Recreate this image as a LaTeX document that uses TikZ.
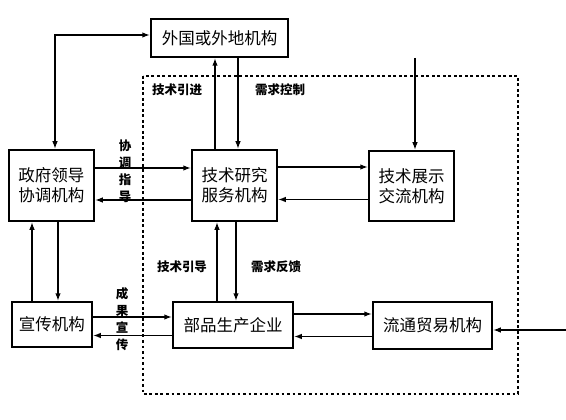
\documentclass[tikz,border=0pt]{standalone}
\usepackage{fontspec}
\setmainfont{Noto Sans CJK SC}
\usetikzlibrary{arrows.meta}
\tikzset{
	box/.style={draw, line width=1.5pt, inner sep=0pt, align=center, font=\fontsize{16.5}{20}\selectfont},
	lab/.style={inner sep=0pt, align=center, font=\bfseries\fontsize{12.5}{17}\selectfont},
	link/.style={line width=1.6pt, -{Latex[length=8pt,width=5.5pt]}}
}

\begin{document}
\begin{tikzpicture}[x=1pt, y=-1pt]
			%%%%% START %%%%%
			
			\useasboundingbox (0, 0) rectangle (566, 420);
			
			\draw[line width=2.3pt, dash pattern=on 2.6pt off 2.9pt] (143, 76) rectangle (518, 394);
			
			\node[box, minimum width=137, minimum height=38] (abroad) at (219.5, 38) {外国或外地机构};
			\node[box, minimum width=85, minimum height=71] (gov) at (51.5, 185.5) {政府领导\\协调机构};
			\node[box, minimum width=85, minimum height=71] (research) at (234.5, 185.5) {技术研究\\服务机构};
			\node[box, minimum width=85, minimum height=70] (expo) at (411.5, 186) {技术展示\\交流机构};
			\node[box, minimum width=80, minimum height=45] (promo) at (52, 324.5) {宣传机构};
			\node[box, minimum width=120, minimum height=46] (maker) at (233, 325) {部品生产企业};
			\node[box, minimum width=119, minimum height=47] (trade) at (432.5, 325.5) {流通贸易机构};
			
			\coordinate (expoin) at (415, 58);
			\coordinate (tradein) at (566, 330);
			
			\draw[link, {Latex[length=8pt,width=5.5pt]}-{Latex[length=8pt,width=5.5pt]}] ([xshift=3.5pt]gov.north) |- ([yshift=3pt]abroad.west);
			\draw[link] ([xshift=-19.5pt]research.north) -- ([xshift=-19.5pt]research.north |- abroad.south);
			\draw[link] ([xshift=3.5pt]research.north |- abroad.south) -- ([xshift=3.5pt]research.north);
			\draw[link] (expoin) -- (expoin |- expo.north);
			
			\draw[link] ([yshift=17.5pt]gov.east) -- ([yshift=17.5pt]gov.east -| research.west);
			\draw[link] ([yshift=-14.5pt]research.west) -- ([yshift=-14.5pt]research.west -| gov.east);
			\draw[link] ([yshift=18.5pt]research.east) -- ([yshift=18.5pt]research.east -| expo.west);
			\draw[link] ([yshift=-13.5pt]expo.west) -- ([yshift=-13.5pt]expo.west -| research.east);
			
			\draw[link] ([xshift=-20pt]promo.north) -- ([xshift=-20pt]promo.north |- gov.south);
			\draw[link] ([xshift=6pt]promo.north |- gov.south) -- ([xshift=6pt]promo.north);
			\draw[link] ([xshift=-16pt]maker.north) -- ([xshift=-16pt]maker.north |- research.south);
			\draw[link] ([xshift=3pt]maker.north |- research.south) -- ([xshift=3pt]maker.north);
			
			\draw[link] ([yshift=7.5pt]promo.east) -- ([yshift=7.5pt]promo.east -| maker.west);
			\draw[link] ([yshift=-10.5pt]maker.west) -- ([yshift=-10.5pt]maker.west -| promo.east);
			\draw[link] ([yshift=11pt]maker.east) -- ([yshift=11pt]maker.east -| trade.west);
			\draw[link] ([yshift=-11pt]trade.west) -- ([yshift=-11pt]trade.west -| maker.east);
			\draw[link] (tradein) -- (tradein -| trade.east);
			
			\node[lab] (intro) at (177, 90) {技术引进};
			\node[lab] (demand) at (280, 90) {需求控制};
			\node[lab] (guide) at (182, 267) {技术引导};
			\node[lab] (feedback) at (276, 267) {需求反馈};
			\node[lab] (coord) at (125, 171) {协\\调\\指\\导};
			\node[lab] (spread) at (122, 319) {成\\果\\宣\\传};
			
			%%%%% END %%%%%
		\end{tikzpicture}
\end{document}
